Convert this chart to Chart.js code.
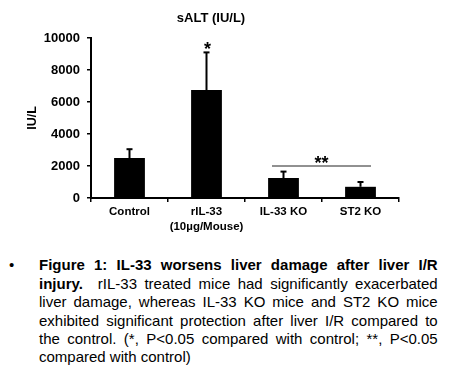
<!DOCTYPE html>
<html>
<head>
<meta charset="utf-8">
<script src="https://cdn.jsdelivr.net/npm/chart.js@4"></script>
<style>
  html, body { margin: 0; padding: 0; background: #fff; }
  body { width: 450px; height: 384px; position: relative; overflow: hidden; font-family: "Liberation Sans", Arial, sans-serif; color: #000; }
  #wrap { position: absolute; left: 0; top: 0; width: 450px; height: 240px; }
  #caption { position: absolute; left: 39px; top: 256.3px; width: 398.7px; font-size: 15px; line-height: 18.4px; }
  #caption .l { text-align: justify; text-align-last: justify; white-space: nowrap; }
  #caption .last { text-align: left; }
  #bullet { position: absolute; left: 9px; top: 256.3px; font-size: 15px; line-height: 18.4px; }
</style>
</head>
<body>
<div id="wrap"><canvas id="c" width="450" height="240"></canvas></div>
<div id="bullet">•</div>
<div id="caption">
  <div class="l"><b>Figure 1: IL-33 worsens liver damage after liver I/R</b></div>
  <div class="l"><b>injury.</b>&nbsp; rIL-33 treated mice had significantly exacerbated</div>
  <div class="l">liver damage, whereas IL-33 KO mice and ST2 KO mice</div>
  <div class="l">exhibited significant protection after liver I/R compared to</div>
  <div class="l">the control. (*, P&lt;0.05 compared with control; **, P&lt;0.05</div>
  <div class="last">compared with control)</div>
</div>
<script>
const categories = ["Control", ["rIL-33", "(10µg/Mouse)"], "IL-33 KO", "ST2 KO"];
const meanValues = [2500, 6750, 1250, 700];
const upperErrorValues = [3050, 9100, 1650, 1000];
const yTickValues = [0, 2000, 4000, 6000, 8000, 10000];
const singleStarIndex = 1;
const groupBracket = { from: 2, to: 3, value: 2000, label: "**" };

Chart.defaults.color = '#000';
Chart.defaults.font.family = '"Liberation Sans", Arial, sans-serif';

const annotations = {
  id: 'annotations',
  afterDatasetsDraw(chart) {
    const ctx = chart.ctx;
    const y = chart.scales.y;
    const meta = chart.getDatasetMeta(0);
    ctx.save();
    ctx.strokeStyle = '#000';
    meta.data.forEach((bar, i) => {
      const yTop = y.getPixelForValue(upperErrorValues[i]);
      const yMean = y.getPixelForValue(meanValues[i]);
      ctx.lineWidth = 2;
      ctx.beginPath();
      ctx.moveTo(bar.x, yMean);
      ctx.lineTo(bar.x, yTop);
      ctx.stroke();
      ctx.beginPath();
      ctx.moveTo(bar.x - 3, yTop);
      ctx.lineTo(bar.x + 3, yTop);
      ctx.stroke();
    });
    ctx.fillStyle = '#000';
    ctx.font = 'bold 18px "Liberation Sans", Arial, sans-serif';
    ctx.textAlign = 'center';
    ctx.textBaseline = 'alphabetic';
    const sb = meta.data[singleStarIndex];
    ctx.fillText('*', sb.x + 1, y.getPixelForValue(upperErrorValues[singleStarIndex]) + 2.8);
    const b1 = meta.data[groupBracket.from], b2 = meta.data[groupBracket.to];
    const ly = y.getPixelForValue(groupBracket.value);
    ctx.lineWidth = 1;
    ctx.strokeStyle = '#222';
    ctx.beginPath();
    ctx.moveTo(b1.x - 11.5, ly);
    ctx.lineTo(b2.x + 10.5, ly);
    ctx.stroke();
    ctx.fillText(groupBracket.label, (b1.x + b2.x) / 2 - 0.5, ly + 3.3);
    ctx.restore();
  }
};

new Chart(document.getElementById('c'), {
  type: 'bar',
  data: {
    labels: categories,
    datasets: [{
      data: meanValues,
      backgroundColor: '#000',
      borderWidth: 0,
      barPercentage: 0.4,
      categoryPercentage: 1
    }]
  },
  options: {
    responsive: false,
    animation: false,
    devicePixelRatio: 1,
    layout: { padding: { left: 23, right: 51, top: 0, bottom: 0 } },
    plugins: {
      legend: { display: false },
      tooltip: { enabled: false },
      title: {
        display: true,
        text: 'sALT (IU/L)',
        color: '#000',
        font: { size: 13, weight: 'bold', lineHeight: 1.2 },
        padding: { top: 10.7, bottom: 11.7 }
      }
    },
    scales: {
      x: {
        afterFit(scale) { scale.height = 42; },
        border: { display: true, color: '#000', width: 2 },
        grid: { display: true, drawOnChartArea: false, drawTicks: true, tickLength: 4, color: '#000', lineWidth: 1.5, offset: true },
        ticks: { color: '#000', font: { size: 11.5, weight: 'bold', lineHeight: 1.3 }, padding: 2.2, autoSkip: false, maxRotation: 0, minRotation: 0 }
      },
      y: {
        min: 0,
        max: 10000,
        afterFit(scale) { scale.width = 68; },
        afterBuildTicks(scale) { scale.ticks = yTickValues.map(v => ({ value: v })); },
        border: { display: true, color: '#000', width: 2 },
        grid: { display: true, drawOnChartArea: false, drawTicks: true, tickLength: 4, color: '#000', lineWidth: 1.5 },
        ticks: { color: '#000', font: { size: 13, weight: 'bold' }, padding: 7, callback: (v) => String(v) },
        title: {
          display: true,
          text: 'IU/L',
          color: '#000',
          font: { size: 12.5, weight: 'bold', lineHeight: 1.2 },
          padding: { top: 2.5, bottom: 0 }
        }
      }
    }
  },
  plugins: [annotations]
});
</script>
</body>
</html>
